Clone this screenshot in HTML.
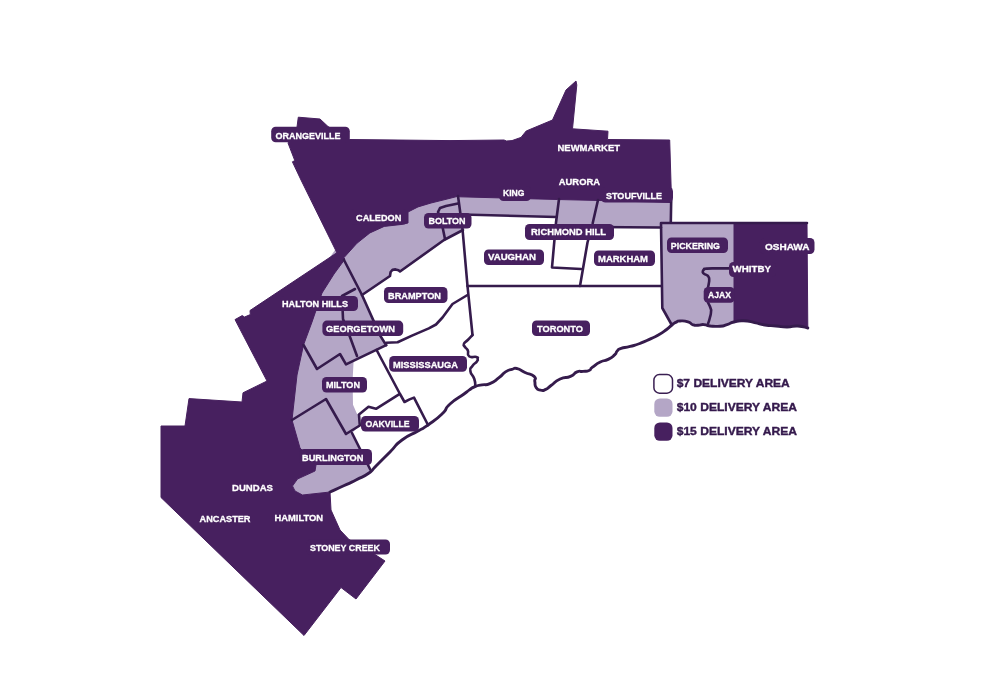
<!DOCTYPE html>
<html><head><meta charset="utf-8"><title>Delivery Areas</title>
<style>
html,body{margin:0;padding:0;background:#fff;}
body{width:1000px;height:684px;overflow:hidden;font-family:"Liberation Sans",sans-serif;}
svg{display:block;will-change:transform;}
.lb{font-family:"Liberation Sans",sans-serif;font-weight:700;font-size:9.8px;fill:#fff;stroke:#fff;stroke-width:0.3px;}
.lg{font-family:"Liberation Sans",sans-serif;font-weight:700;font-size:11.4px;fill:#34194c;stroke:#34194c;stroke-width:0.4px;}
.ln{fill:none;stroke:#351b4c;stroke-width:2.6;stroke-linejoin:round;stroke-linecap:round;}
</style></head><body>
<svg width="1000" height="684" viewBox="0 0 1000 684">
<rect width="1000" height="684" fill="#ffffff"/>
<polygon fill="#b4a6c6" points="671.5,196 671,227.5 594,227 592.5,224 557,224 556,217 462.5,214.5 463,230 444,240 400,271.5 398.5,270.3 395.5,269.4 392.5,269.9 390.6,272 390,276 362,295 386,345 353.6,361 352.6,380 353,404.7 356.8,413.5 359,415 359.8,425.5 352,433 370,469 369,473 356,480 343.7,485.8 330,492 302.5,495 295,491 292.5,486 297.5,479 315,471 280,470 280,400 300,300 335,250 370,222 408,205 458,190"/>
<polygon fill="#b4a6c6" points="661,223 734,223 734,322 727,324.6 720,326.2 710,326 704,324.6 698,325.2 693,324.8 688,321.8 680,321 675.7,322.4 671.8,325 662.3,308"/>
<polygon fill="#47205f" stroke="#47205f" stroke-width="1" stroke-linejoin="round" points="288,143 297,127 298.3,117.2 320,119 328,126.5 350,139.5 450,140.6 504,140 506.5,141 512,140.6 521,137.4 526.2,131 552.5,120 566,90 576,81 576.8,85 572.5,128.8 608,131.2 607.5,139.5 669.7,140 671.6,202.5 600,200.5 557.5,199.5 460,196.8 457,196.5 444,199.8 431,203 418,206.9 408,212 408,223 401,224.5 384.2,226.4 369.9,232.9 356.9,243.3 344,257.6 344,260 337,253 301,180 292.4,161.8 294.8,160.6"/>
<polygon fill="#47205f" stroke="#47205f" stroke-width="1" stroke-linejoin="round" points="338,252 250,310.5 250.3,314.6 244.5,317 242.2,315.6 235,319.6 267,381 243,392.8 242,402 189,398.6 185,426 161,426 161,497.5 304,635.5 341,587.5 356,599 385,561 375,554.5 349,539.5 340,530 331,510 330,492 302.5,495 295,491 292.5,486 297.5,479 315,471 316,465 300,448 292,420 297,375 303.5,345 312,322 322,293 334,274 345,259"/>
<polygon fill="#47205f" stroke="#47205f" stroke-width="1" stroke-linejoin="round" points="734,223 807,223 807.8,328 797.7,326 787,327 776,326 765,325 754.5,322.6 743.7,320.8 734,322.4"/>
<polyline class="ln" points="671.2,200 670.8,222.5"/>
<polyline class="ln" points="661,227.5 594,227"/>
<polyline class="ln" points="559,199 556,222.5 552,267.5 581,269"/>
<polyline class="ln" points="598,200 592.5,224 587.5,242.5 580,286"/>
<polyline class="ln" points="462,214.5 556,217"/>
<polyline class="ln" points="458,196 462.5,229 467.5,286 472.5,335"/>
<polyline class="ln" points="463,230 444,240 400,271.5 398.5,270.3 395.5,269.4 392.5,269.9 390.6,272 390,276 362,295"/>
<polyline class="ln" points="467.5,286 661,286"/>
<polyline class="ln" points="445,239 441.5,222 438,212 440,208 446,206 458,203.6"/>
<polyline class="ln" points="344,260 362,295 380.2,335.6 386.2,345.2"/>
<polyline class="ln" points="376.6,350 400,394 404.5,402 409.6,399.4 414,397.6 428,425"/>
<polyline class="ln" points="303.5,345 317,369 340,354 346,364.4 386.2,345.2"/>
<polyline class="ln" points="355,289 342,296 343,319 350,337 357,356"/>
<polyline class="ln" points="386.2,342.8 397.6,342.2 412,335.6 428.8,328.4 436,324.5 442.5,317.5 452.5,304 467.5,295"/>
<polyline class="ln" points="292,420 326,399 346,434 359.8,425.5 359,414.6 368.5,406.8 376,408.8 399,394.4"/>
<polyline class="ln" points="352,433 370.5,470"/>
<polyline class="ln" points="671.8,325 662.3,308 661,223 807,223"/>
<path class="ln" d="M472.5,335.0C470.9,336.7 470.7,337.0 467.8,340.0C464.9,343.0 464.8,341.6 463.9,343.9C463.0,346.2 463.7,344.8 465.0,347.0C466.3,349.2 466.4,347.3 467.8,350.4C469.2,353.5 466.3,354.1 469.1,356.3C471.9,358.5 473.5,356.0 476.3,356.9C479.1,357.8 477.4,357.5 477.6,359.0C477.8,360.5 478.6,359.2 476.9,361.5C475.2,363.8 474.6,362.8 472.4,366.0C470.2,369.2 469.8,366.9 470.4,371.2C471.0,375.5 472.7,374.0 474.3,379.0C475.9,384.0 475.0,383.8 475.3,386.2"/>
<path class="ln" d="M734.0,268.4C729.3,268.4 729.0,268.3 720.0,268.4C711.0,268.5 712.3,268.2 707.0,268.6C701.7,269.0 705.4,268.7 704.0,269.6C702.6,270.5 703.2,270.1 702.9,271.2C702.6,272.3 702.5,272.0 703.2,273.0C703.9,274.0 703.7,273.6 705.0,274.3C706.3,275.0 705.8,274.3 707.0,275.2C708.2,276.1 707.9,275.6 708.6,277.0C709.3,278.4 709.1,277.3 709.2,279.5C709.3,281.7 709.2,280.8 708.8,283.5C708.4,286.2 708.3,286.2 708.0,287.5"/>
<path class="ln" d="M708.0,302.5C708.8,304.3 709.5,304.8 710.5,308.0C711.5,311.2 711.2,308.7 711.0,312.0C710.8,315.3 710.8,314.0 709.8,318.0C708.8,322.0 708.6,322.0 708.0,324.0"/>
<path class="ln" style="stroke-width:2.9" d="M807.8,328.0C804.4,327.3 804.6,326.3 797.7,326.0C790.8,325.7 794.2,327.0 787.0,327.0C779.8,327.0 783.3,326.7 776.0,326.0C768.7,325.3 772.2,326.1 765.0,325.0C757.8,323.9 761.6,324.0 754.5,322.6C747.4,321.2 750.5,321.0 743.7,320.8C736.9,320.6 739.6,320.7 734.0,322.0C728.4,323.3 731.7,323.2 727.0,324.6C722.3,326.0 725.7,325.7 720.0,326.2C714.3,326.7 715.3,326.5 710.0,326.0C704.7,325.5 708.0,324.9 704.0,324.6C700.0,324.3 701.7,325.1 698.0,325.2C694.3,325.3 696.3,325.9 693.0,324.8C689.7,323.7 692.3,323.1 688.0,321.8C683.7,320.5 684.1,320.8 680.0,321.0C675.9,321.2 678.4,321.1 675.7,322.4C673.0,323.7 674.8,322.6 671.8,325.0C668.8,327.4 670.9,326.3 666.6,329.5C662.3,332.7 664.0,331.7 658.8,334.7C653.6,337.7 657.1,335.8 651.0,338.6C644.9,341.4 647.5,340.6 640.6,343.2C633.7,345.8 636.7,344.7 630.2,346.4C623.7,348.1 625.4,346.9 621.1,348.4C616.8,349.9 619.4,348.8 617.2,351.0C615.0,353.2 617.6,352.1 614.6,354.9C611.6,357.7 612.9,357.0 608.1,359.4C603.3,361.8 605.5,359.4 600.3,362.0C595.1,364.6 596.3,364.4 592.5,367.2C588.7,370.0 592.2,369.1 589.0,370.5C585.8,371.9 587.0,370.9 583.0,371.4C579.0,371.9 581.2,370.2 577.0,371.9C572.8,373.6 576.1,374.0 570.5,376.4C564.9,378.8 566.6,376.0 560.1,379.0C553.6,382.0 555.8,382.0 551.0,385.5C546.2,389.0 549.3,387.9 545.8,389.4C542.3,390.9 543.8,390.7 540.6,390.1C537.4,389.5 538.0,390.3 536.1,387.5C534.2,384.7 535.5,385.3 534.8,381.6C534.1,377.9 537.4,379.4 534.1,376.4C530.8,373.4 530.6,375.1 525.0,372.5C519.4,369.9 521.5,369.7 517.2,368.6C512.9,367.5 515.9,368.2 512.0,369.3C508.1,370.4 509.8,369.1 505.5,371.9C501.2,374.7 504.2,373.8 499.0,377.7C493.8,381.6 495.5,381.2 489.9,383.6C484.3,386.0 487.1,383.9 482.1,384.9C477.1,385.9 479.3,384.9 475.0,386.6C470.7,388.3 472.8,387.6 469.1,390.1C465.4,392.6 470.4,389.4 464.0,394.0C457.6,398.6 457.3,397.3 450.0,404.0C442.7,410.7 449.3,407.0 442.0,414.0C434.7,421.0 436.0,419.3 428.0,425.0C420.0,430.7 426.7,426.0 418.0,431.0C409.3,436.0 411.3,433.0 402.0,440.0C392.7,447.0 398.7,443.3 390.0,452.0C381.3,460.7 383.0,459.0 376.0,466.0C369.0,473.0 375.7,468.3 369.0,473.0C362.3,477.7 364.4,475.7 356.0,480.0C347.6,484.3 352.4,481.8 343.7,485.8C335.0,489.8 334.6,489.9 330.0,492.0"/>
<rect x="271.2" y="126.8" width="78.6" height="15.4" rx="4.5" fill="#47205f"/>
<text class="lb" x="275.4" y="138.7" textLength="65.2" lengthAdjust="spacingAndGlyphs">ORANGEVILLE</text>
<text class="lb" x="557.5" y="150.6" textLength="62.5" lengthAdjust="spacingAndGlyphs">NEWMARKET</text>
<text class="lb" x="558.8" y="185.3" textLength="41.2" lengthAdjust="spacingAndGlyphs">AURORA</text>
<rect x="499" y="186" width="32.0" height="15.0" rx="4.5" fill="#47205f"/>
<text class="lb" x="503" y="196.3" textLength="21.5" lengthAdjust="spacingAndGlyphs">KING</text>
<rect x="601" y="187" width="72.0" height="15.5" rx="4.5" fill="#47205f"/>
<text class="lb" x="606" y="198.9" textLength="56.0" lengthAdjust="spacingAndGlyphs">STOUFVILLE</text>
<rect x="350" y="209" width="57.7" height="15.6" rx="4.5" fill="#47205f"/>
<text class="lb" x="356" y="220.9" textLength="45.4" lengthAdjust="spacingAndGlyphs">CALEDON</text>
<rect x="424" y="213" width="47.5" height="15.5" rx="4.5" fill="#47205f"/>
<text class="lb" x="428.4" y="224.2" textLength="37.2" lengthAdjust="spacingAndGlyphs">BOLTON</text>
<rect x="525" y="224" width="89.0" height="16.0" rx="4.5" fill="#47205f"/>
<text class="lb" x="531" y="235.0" textLength="75.0" lengthAdjust="spacingAndGlyphs">RICHMOND HILL</text>
<rect x="484" y="249.5" width="60.0" height="15.5" rx="4.5" fill="#47205f"/>
<text class="lb" x="488" y="260.0" textLength="48.0" lengthAdjust="spacingAndGlyphs">VAUGHAN</text>
<rect x="594" y="250.5" width="61.0" height="15.5" rx="4.5" fill="#47205f"/>
<text class="lb" x="598" y="261.6" textLength="50.0" lengthAdjust="spacingAndGlyphs">MARKHAM</text>
<rect x="667" y="237.5" width="61.0" height="15.5" rx="4.5" fill="#47205f"/>
<text class="lb" x="670.8" y="249.0" textLength="49.2" lengthAdjust="spacingAndGlyphs">PICKERING</text>
<rect x="760" y="238" width="54.5" height="16.0" rx="4.5" fill="#47205f"/>
<text class="lb" x="765" y="249.6" textLength="44.5" lengthAdjust="spacingAndGlyphs">OSHAWA</text>
<rect x="729" y="262" width="47.0" height="15.0" rx="4.5" fill="#47205f"/>
<text class="lb" x="732.5" y="272.4" textLength="38.5" lengthAdjust="spacingAndGlyphs">WHITBY</text>
<rect x="703.7" y="287" width="31.0" height="15.8" rx="4.5" fill="#47205f"/>
<text class="lb" x="708" y="298.4" textLength="23.0" lengthAdjust="spacingAndGlyphs">AJAX</text>
<rect x="384" y="287" width="63.5" height="16.0" rx="4.5" fill="#47205f"/>
<text class="lb" x="388" y="299.0" textLength="53.0" lengthAdjust="spacingAndGlyphs">BRAMPTON</text>
<rect x="532" y="320.5" width="58.0" height="15.5" rx="4.5" fill="#47205f"/>
<text class="lb" x="537" y="331.7" textLength="46.0" lengthAdjust="spacingAndGlyphs">TORONTO</text>
<rect x="280" y="296" width="78.0" height="15.0" rx="4.5" fill="#47205f"/>
<text class="lb" x="282" y="307.3" textLength="66.0" lengthAdjust="spacingAndGlyphs">HALTON HILLS</text>
<rect x="322.4" y="320.6" width="80.8" height="15.4" rx="4.5" fill="#47205f"/>
<text class="lb" x="326" y="332.3" textLength="69.0" lengthAdjust="spacingAndGlyphs">GEORGETOWN</text>
<rect x="389.2" y="356" width="77.8" height="15.7" rx="4.5" fill="#47205f"/>
<text class="lb" x="393" y="367.7" textLength="65.0" lengthAdjust="spacingAndGlyphs">MISSISSAUGA</text>
<rect x="322" y="377" width="45.0" height="15.5" rx="4.5" fill="#47205f"/>
<text class="lb" x="326" y="388.1" textLength="34.0" lengthAdjust="spacingAndGlyphs">MILTON</text>
<rect x="361" y="416" width="58.0" height="15.6" rx="4.5" fill="#47205f"/>
<text class="lb" x="365.4" y="427.3" textLength="44.2" lengthAdjust="spacingAndGlyphs">OAKVILLE</text>
<rect x="299.5" y="449" width="72.5" height="16.0" rx="4.5" fill="#47205f"/>
<text class="lb" x="302" y="460.6" textLength="61.4" lengthAdjust="spacingAndGlyphs">BURLINGTON</text>
<text class="lb" x="232" y="490.6" textLength="41.0" lengthAdjust="spacingAndGlyphs">DUNDAS</text>
<text class="lb" x="199.5" y="521.8" textLength="51.0" lengthAdjust="spacingAndGlyphs">ANCASTER</text>
<text class="lb" x="274.5" y="520.8" textLength="48.5" lengthAdjust="spacingAndGlyphs">HAMILTON</text>
<rect x="306" y="539.5" width="84.0" height="15.0" rx="4.5" fill="#47205f"/>
<text class="lb" x="310" y="550.7" textLength="70.0" lengthAdjust="spacingAndGlyphs">STONEY CREEK</text>
<rect x="653.9" y="374.6" width="18.6" height="18.6" rx="5.5" fill="#fff" stroke="#3a1f52" stroke-width="1.5"/>
<rect x="654.3" y="398.4" width="18.2" height="18.4" rx="5.5" fill="#b4a6c6"/>
<rect x="654.3" y="422.4" width="18.2" height="18.4" rx="5.5" fill="#47205f"/>
<text class="lg" x="676.7" y="387.2" textLength="113.1" lengthAdjust="spacingAndGlyphs">$7 DELIVERY AREA</text>
<text class="lg" x="676.7" y="410.9" textLength="120.3" lengthAdjust="spacingAndGlyphs">$10 DELIVERY AREA</text>
<text class="lg" x="676.7" y="434.5" textLength="120.3" lengthAdjust="spacingAndGlyphs">$15 DELIVERY AREA</text>
</svg>
</body></html>
